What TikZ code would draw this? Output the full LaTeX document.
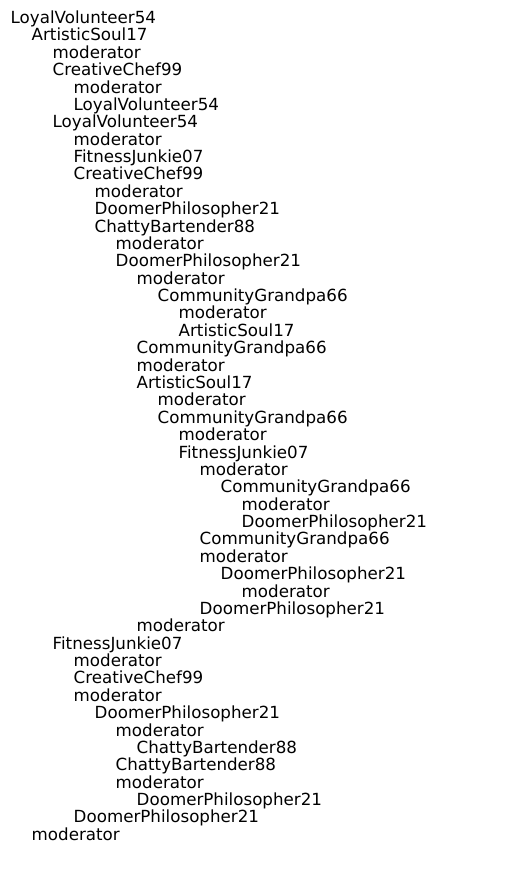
\documentclass[tikz,border=0pt]{standalone}
\usepackage{fontspec}
\setmainfont{DejaVu Sans}
\usepackage{tikz}
\usetikzlibrary{positioning}

\begin{document}
\begin{tikzpicture}[x=1pt,y=1pt]
\tikzset{
 n/.style={anchor=base west,inner sep=0pt,font=\fontsize{16.7}{20}\selectfont}
}
\useasboundingbox (0,0) rectangle (515,-870);
% one line per reply, first number is the depth
\foreach \lv/\who [count=\i] in {
 0/LoyalVolunteer54, 1/ArtisticSoul17, 2/moderator, 2/CreativeChef99,
 3/moderator, 3/LoyalVolunteer54, 2/LoyalVolunteer54, 3/moderator,
 3/FitnessJunkie07, 3/CreativeChef99, 4/moderator, 4/DoomerPhilosopher21,
 4/ChattyBartender88, 5/moderator, 5/DoomerPhilosopher21, 6/moderator,
 7/CommunityGrandpa66, 8/moderator, 8/ArtisticSoul17, 6/CommunityGrandpa66,
 6/moderator, 6/ArtisticSoul17, 7/moderator, 7/CommunityGrandpa66,
 8/moderator, 8/FitnessJunkie07, 9/moderator, 10/CommunityGrandpa66,
 11/moderator, 11/DoomerPhilosopher21, 9/CommunityGrandpa66, 9/moderator,
 10/DoomerPhilosopher21, 11/moderator, 9/DoomerPhilosopher21, 6/moderator,
 2/FitnessJunkie07, 3/moderator, 3/CreativeChef99, 3/moderator,
 4/DoomerPhilosopher21, 5/moderator, 6/ChattyBartender88, 5/ChattyBartender88,
 5/moderator, 6/DoomerPhilosopher21, 3/DoomerPhilosopher21, 1/moderator}
 \node[n] (u\i) at ({10.5+21*\lv},{-23.5-17.38*(\i-1)}) {\who};
\end{tikzpicture}
\end{document}
